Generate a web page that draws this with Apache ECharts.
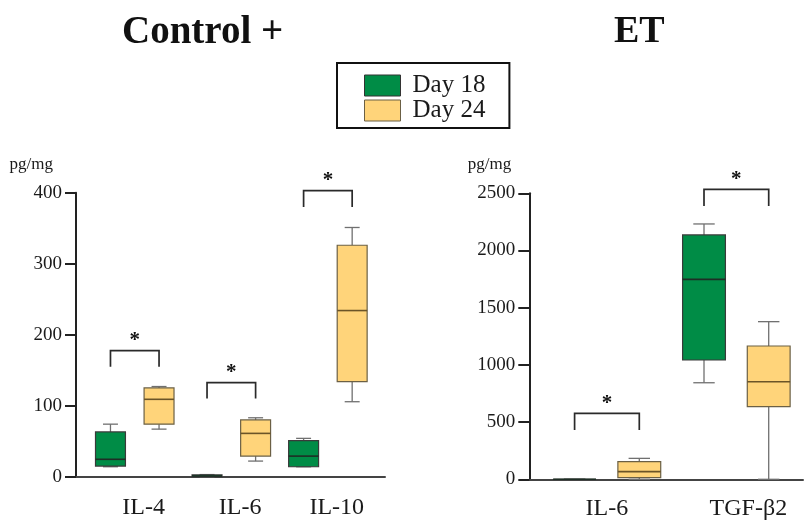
<!DOCTYPE html>
<html><head><meta charset="utf-8">
<script src="https://cdn.jsdelivr.net/npm/echarts@6/dist/echarts.min.js"></script>
<style>html,body{margin:0;padding:0;background:#fff}#c{width:806px;height:522px}</style>
</head><body><div id="c"></div>
<script>
// ---------- data ----------
const seriesNames = ['Day 18', 'Day 24'];
const panelTitles = ['Control +', 'ET'];
const unitLabel = 'pg/mg';

// Control + panel: [min, Q1, median, Q3, max]
const controlCategories = ['IL-4', 'IL-6', 'IL-10'];
const controlDay18 = [[14, 15, 24.5, 63, 74], [0, 0, 1, 2.5, 3], [14, 14, 29, 50.7, 54]];
const controlDay24 = [[67, 74, 109, 125, 127], [22, 29, 61, 80, 83], [105.6, 134, 234, 326, 351]];
const controlBrackets = [[177.5, 155], [132.4, 110], [402.8, 380]]; // [bar level, leg end]
const controlYAxis = [0, 400, 100]; // min, max, step

// ET panel
const etCategories = ['IL-6', 'TGF-β2'];
const etDay18 = [[0, 0, 0, 0, 0], [844, 1043, 1748, 2136, 2232]];
const etDay24 = [[0, 14, 67, 154, 183], [0, 635, 853, 1165, 1378]];
const etBrackets = [[577, 431], [2535, 2389]];
const etYAxis = [0, 2500, 500];

// ---------- styles ----------
const FONT = '"Liberation Serif", "Times New Roman", serif';
const GREEN = '#008c46';
const YELLOW = '#ffd47a';
const TXT = '#1a1a1a';

function withIndex(arr) { return arr.map((d, i) => [i].concat(d)); }

function boxRenderer(offset, boxW, fill, stroke, medianColor) {
  return function (params, api) {
    const x = api.value(0) + offset;
    const pMin = api.coord([x, api.value(1)]);
    const pQ1 = api.coord([x, api.value(2)]);
    const pMed = api.coord([x, api.value(3)]);
    const pQ3 = api.coord([x, api.value(4)]);
    const pMax = api.coord([x, api.value(5)]);
    const w = api.size([boxW, 0])[0];
    const cx = pMed[0], hw = w / 2, cw = w * 0.25;
    const wh = { stroke: '#707070', lineWidth: 1.3 };
    return {
      type: 'group', children: [
        { type: 'line', shape: { x1: cx, y1: pMax[1], x2: cx, y2: pQ3[1] }, style: wh },
        { type: 'line', shape: { x1: cx, y1: pQ1[1], x2: cx, y2: pMin[1] }, style: wh },
        { type: 'line', shape: { x1: cx - cw, y1: pMax[1], x2: cx + cw, y2: pMax[1] }, style: wh },
        { type: 'line', shape: { x1: cx - cw, y1: pMin[1], x2: cx + cw, y2: pMin[1] }, style: wh },
        { type: 'rect', shape: { x: cx - hw, y: pQ3[1], width: w, height: pQ1[1] - pQ3[1] }, style: { fill: fill, stroke: stroke, lineWidth: 1.2 } },
        { type: 'line', shape: { x1: cx - hw, y1: pMed[1], x2: cx + hw, y2: pMed[1] }, style: { stroke: medianColor, lineWidth: 1.6 } }
      ]
    };
  };
}

function bracketRenderer(offL, offR) {
  return function (params, api) {
    const i = api.value(0);
    const a = api.coord([i + offL, api.value(2)]);
    const b = api.coord([i + offL, api.value(1)]);
    const c = api.coord([i + offR, api.value(1)]);
    const d = api.coord([i + offR, api.value(2)]);
    return {
      type: 'group', children: [
        { type: 'polyline', shape: { points: [a, b, c, d] }, style: { stroke: '#2a2a2a', lineWidth: 1.7, fill: null } },
        { type: 'text', x: (b[0] + c[0]) / 2, y: b[1] - 10, style: { text: '*', fill: '#111', font: 'bold 21px ' + FONT, align: 'center', verticalAlign: 'middle' } }
      ]
    };
  };
}

function labelFor(cats, shifted) {
  return function (v) {
    const k = Math.round(v * 10);
    if (k % 10 === 0 && k >= 0 && k / 10 < cats.length) {
      const idx = k / 10;
      return shifted && shifted[idx] ? '{s|' + cats[idx] + '}' : '{n|' + cats[idx] + '}';
    }
    return '';
  };
}

function yAxisCfg(grid, ax, namePad) {
  return {
    gridIndex: grid, type: 'value', min: ax[0], max: ax[1], interval: ax[2],
    name: unitLabel, nameLocation: 'end', nameGap: 20,
    nameTextStyle: { fontFamily: FONT, fontSize: 17, color: TXT, align: 'right', padding: [0, namePad, 0, 0] },
    axisLine: { show: true, onZero: false, lineStyle: { color: '#222', width: 2 } },
    axisTick: { show: true, length: 11, lineStyle: { color: '#222', width: 2 } },
    splitLine: { show: false },
    axisLabel: { margin: 14, fontFamily: FONT, fontSize: 19, color: TXT, formatter: function (v) { return String(v); } }
  };
}

function xAxisCfg(grid, min, max, cats, shifted, margin) {
  return {
    gridIndex: grid, type: 'value', min: min, max: max, interval: 0.1,
    axisLine: { show: true, onZero: false, lineStyle: { color: '#444', width: 2 } },
    axisTick: { show: false }, splitLine: { show: false },
    axisLabel: {
      margin: margin, formatter: labelFor(cats, shifted),
      rich: {
        n: { fontFamily: FONT, fontSize: 24, color: TXT },
        s: { fontFamily: FONT, fontSize: 24, color: TXT, padding: [0, 0, 0, 24] }
      }
    }
  };
}

const L18 = -0.343, L24 = 0.16, LW = 0.31;
const R18 = -0.25, R24 = 0.25, RW = 0.331;

const option = {
  animation: false,
  backgroundColor: '#fff',
  title: [
    { text: panelTitles[0], left: 122, top: 13, padding: 0, textStyle: { fontFamily: FONT, fontWeight: 'bold', fontSize: 39, color: '#111' } },
    { text: panelTitles[1], left: 614, top: 13, padding: 0, textStyle: { fontFamily: FONT, fontWeight: 'bold', fontSize: 38, color: '#111' } }
  ],
  legend: {
    orient: 'vertical', left: 337, top: 63, padding: [10, 24, 5, 27],
    borderColor: '#111', borderWidth: 2, itemGap: 0, itemWidth: 36, itemHeight: 21,
    selectedMode: false, icon: 'rect',
    textStyle: { fontFamily: FONT, fontSize: 25, color: TXT, padding: [0, 0, 0, 7] },
    data: [
      { name: seriesNames[0], itemStyle: { color: GREEN, borderColor: '#333', borderWidth: 1 } },
      { name: seriesNames[1], itemStyle: { color: YELLOW, borderColor: '#6b6045', borderWidth: 1 } }
    ]
  },
  grid: [
    { left: 76, top: 192.7, width: 309, height: 284 },
    { left: 529.3, top: 193.3, width: 276.7, height: 286 }
  ],
  xAxis: [
    xAxisCfg(0, -0.7, 2.5, controlCategories, null, 19),
    xAxisCfg(1, -0.6, 1.515, etCategories, [false, true], 17)
  ],
  yAxis: [yAxisCfg(0, controlYAxis, 23), yAxisCfg(1, etYAxis, 18)],
  series: [
    { name: seriesNames[0], type: 'custom', xAxisIndex: 0, yAxisIndex: 0, clip: false,
      itemStyle: { color: GREEN }, encode: { x: 0, y: [1, 2, 3, 4, 5] },
      renderItem: boxRenderer(L18, LW, GREEN, '#3a3a3a', '#1e2e25'), data: withIndex(controlDay18) },
    { name: seriesNames[1], type: 'custom', xAxisIndex: 0, yAxisIndex: 0, clip: false,
      itemStyle: { color: YELLOW }, encode: { x: 0, y: [1, 2, 3, 4, 5] },
      renderItem: boxRenderer(L24, LW, YELLOW, '#6b6045', '#6b5427'), data: withIndex(controlDay24) },
    { name: 'sig-control', type: 'custom', xAxisIndex: 0, yAxisIndex: 0, clip: false,
      encode: { x: 0, y: [1, 2] }, renderItem: bracketRenderer(L18, L24), data: withIndex(controlBrackets) },
    { name: seriesNames[0], type: 'custom', xAxisIndex: 1, yAxisIndex: 1, clip: false,
      itemStyle: { color: GREEN }, encode: { x: 0, y: [1, 2, 3, 4, 5] },
      renderItem: boxRenderer(R18, RW, GREEN, '#3a3a3a', '#1e2e25'), data: withIndex(etDay18) },
    { name: seriesNames[1], type: 'custom', xAxisIndex: 1, yAxisIndex: 1, clip: false,
      itemStyle: { color: YELLOW }, encode: { x: 0, y: [1, 2, 3, 4, 5] },
      renderItem: boxRenderer(R24, RW, YELLOW, '#6b6045', '#6b5427'), data: withIndex(etDay24) },
    { name: 'sig-et', type: 'custom', xAxisIndex: 1, yAxisIndex: 1, clip: false,
      encode: { x: 0, y: [1, 2] }, renderItem: bracketRenderer(R18, R24), data: withIndex(etBrackets) }
  ]
};

const chart = echarts.init(document.getElementById('c'), null, { renderer: 'canvas' });
chart.setOption(option);
</script>
</body></html>
